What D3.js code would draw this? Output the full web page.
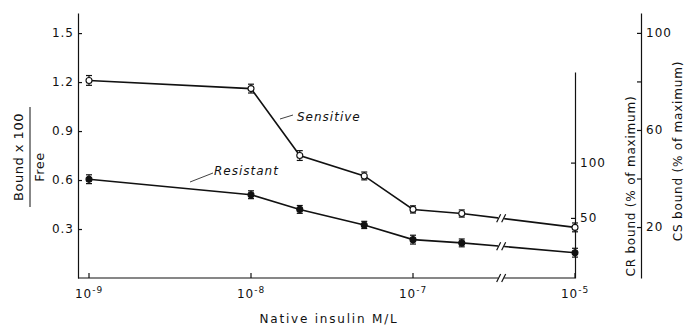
<!DOCTYPE html>
<html>
<head>
<meta charset="utf-8">
<script src="https://cdn.jsdelivr.net/npm/d3@7"></script>
<style>
  body { margin: 0; background: #fff; }
  svg text { font-family: "DejaVu Sans", sans-serif; fill: #111; }
  .axis path, .axis line { stroke: #111; stroke-width: 1.2; }
  .axis text { font-size: 12px; letter-spacing: 1px; }
</style>
</head>
<body>
<div id="chart"></div>
<script>
// insulin concentrations (M/L); 1e-5 sits after the axis break
const conc = [1e-9, 1e-8, 2e-8, 5e-8, 1e-7, 2e-7, 1e-5];
const sensitive = [1.21, 1.16, 0.75, 0.625, 0.42, 0.395, 0.31];
const sensitiveErr = [0.03, 0.027, 0.03, 0.024, 0.022, 0.022, 0.027];
const resistant = [0.605, 0.51, 0.42, 0.325, 0.235, 0.215, 0.155];
const resistantErr = [0.027, 0.024, 0.024, 0.022, 0.027, 0.024, 0.027];

const xTicks = [1e-9, 1e-8, 1e-7, 1e-5];
const leftTicks = [0.3, 0.6, 0.9, 1.2, 1.5];
const crTicks = [50, 100];
const csTicks = [20, 40, 60, 80, 100];
const csLabels = [20, 60, 100];
const breakConc = 3.5e-7;

const width = 686;
const height = 326;

const svg = d3.select('#chart').append('svg')
  .attr('width', width)
  .attr('height', height);

// log scale, values past the break are shifted back one decade
const xLog = d3.scaleLog().domain([1e-9, 1e-6]).range([89, 575]);
const x = v => (v > 1e-6 ? xLog(v / 10) : xLog(v));

const y = d3.scaleLinear().domain([0, 1.623]).range([278, 13]);
const yCR = d3.scaleLinear().domain([-4.3, 181.9]).range([278, 72]);
const yCS = d3.scaleLinear().domain([-1, 108.2]).range([278, 13]);

// left axis
svg.append('g')
  .attr('class', 'axis')
  .attr('transform', 'translate(78,0)')
  .call(d3.axisLeft(y).tickValues(leftTicks).tickSize(-4).tickSizeOuter(0).tickPadding(4)
    .tickFormat(d3.format('.1f')));

// bottom axis
const xAxisG = svg.append('g')
  .attr('class', 'axis')
  .attr('transform', 'translate(0,278)');
xAxisG.append('line')
  .attr('x1', 78).attr('x2', 575).attr('y1', 0).attr('y2', 0);
const xt = xAxisG.selectAll('.xtick')
  .data(xTicks)
  .enter().append('g')
  .attr('class', 'xtick')
  .attr('transform', d => `translate(${x(d)},0)`);
xt.append('line').attr('y1', 0).attr('y2', -5);
const xtText = xt.append('text')
  .attr('y', 20)
  .attr('text-anchor', 'middle');
xtText.append('tspan').text('10');
xtText.append('tspan')
  .attr('dy', -5)
  .style('font-size', '9px')
  .text(d => `-${Math.round(-Math.log10(d))}`);

// break marks
function breakMark(cx, cy) {
  const g = svg.append('g').attr('transform', `translate(${cx},${cy})`);
  g.append('rect').attr('x', -3).attr('y', -3).attr('width', 6).attr('height', 6).attr('fill', '#fff');
  [-2.5, 2.5].forEach((dx) => {
    g.append('line')
      .attr('x1', dx - 2).attr('y1', 4)
      .attr('x2', dx + 2).attr('y2', -4)
      .attr('stroke', '#111').attr('stroke-width', 1.2);
  });
}

// CR axis (right, inner)
svg.append('g')
  .attr('class', 'axis')
  .attr('transform', `translate(${x(1e-5)},0)`)
  .call(d3.axisRight(yCR).tickValues(crTicks).tickSize(-4).tickSizeOuter(0).tickPadding(5));

// CS axis (right, outer)
svg.append('g')
  .attr('class', 'axis')
  .attr('transform', 'translate(641,0)')
  .call(d3.axisRight(yCS).tickValues(csTicks).tickSize(-4).tickSizeOuter(0).tickPadding(5)
    .tickFormat(d => (csLabels.includes(d) ? d : '')));

// series
const line = d3.line().x(d => x(d.c)).y(d => y(d.v));

function drawSeries(vals, errs, filled) {
  const pts = conc.map((c, i) => ({ c, v: vals[i], e: errs[i] }));
  svg.append('path')
    .datum(pts)
    .attr('d', line)
    .attr('fill', 'none')
    .attr('stroke', '#111')
    .attr('stroke-width', 1.6);

  // break on the last segment
  const a = pts[pts.length - 2];
  const b = pts[pts.length - 1];
  const bx = xLog(breakConc);
  const t = (bx - x(a.c)) / (x(b.c) - x(a.c));
  breakMark(bx, y(a.v) + t * (y(b.v) - y(a.v)));

  const g = svg.append('g').selectAll('g')
    .data(pts)
    .enter().append('g');
  g.append('line')
    .attr('x1', d => x(d.c)).attr('x2', d => x(d.c))
    .attr('y1', d => y(d.v + d.e)).attr('y2', d => y(d.v - d.e))
    .attr('stroke', '#111').attr('stroke-width', 1.2);
  [1, -1].forEach((s) => {
    g.append('line')
      .attr('x1', d => x(d.c) - 3).attr('x2', d => x(d.c) + 3)
      .attr('y1', d => y(d.v + s * d.e)).attr('y2', d => y(d.v + s * d.e))
      .attr('stroke', '#111').attr('stroke-width', 1.2);
  });
  g.append('circle')
    .attr('cx', d => x(d.c)).attr('cy', d => y(d.v))
    .attr('r', 3)
    .attr('fill', filled ? '#111' : '#fff')
    .attr('stroke', '#111')
    .attr('stroke-width', 1.1);
}

drawSeries(sensitive, sensitiveErr, false);
drawSeries(resistant, resistantErr, true);
breakMark(xLog(breakConc), 278);

// series labels
svg.append('line').attr('x1', 280).attr('y1', 119).attr('x2', 293).attr('y2', 115)
  .attr('stroke', '#111').attr('stroke-width', 0.8);
svg.append('text').attr('x', 297).attr('y', 121)
  .style('font-size', '12px').style('font-style', 'italic').style('letter-spacing', '1px')
  .text('Sensitive');
svg.append('line').attr('x1', 190).attr('y1', 182).attr('x2', 213).attr('y2', 173)
  .attr('stroke', '#111').attr('stroke-width', 0.8);
svg.append('text').attr('x', 214).attr('y', 175)
  .style('font-size', '12px').style('font-style', 'italic').style('letter-spacing', '1px')
  .text('Resistant');

// axis titles
svg.append('text')
  .attr('x', 329).attr('y', 323)
  .attr('text-anchor', 'middle')
  .style('font-size', '12px').style('letter-spacing', '1.8px')
  .text('Native insulin M/L');

const lt = svg.append('g').attr('transform', 'translate(30,157) rotate(-90)');
lt.append('text').attr('x', 0).attr('y', -7).attr('text-anchor', 'middle')
  .style('font-size', '13px').style('letter-spacing', '0.5px')
  .text('Bound x 100');
lt.append('line').attr('x1', -50).attr('x2', 50).attr('y1', 0).attr('y2', 0)
  .attr('stroke', '#111').attr('stroke-width', 1);
lt.append('text').attr('x', -10).attr('y', 14).attr('text-anchor', 'middle')
  .style('font-size', '13px').style('letter-spacing', '0.5px')
  .text('Free');

svg.append('text')
  .attr('transform', 'translate(635,186) rotate(-90)')
  .attr('text-anchor', 'middle')
  .style('font-size', '12px').style('letter-spacing', '0.8px')
  .text('CR bound (% of maximum)');
svg.append('text')
  .attr('transform', 'translate(682,151) rotate(-90)')
  .attr('text-anchor', 'middle')
  .style('font-size', '12px').style('letter-spacing', '0.8px')
  .text('CS bound (% of maximum)');
</script>
</body>
</html>
